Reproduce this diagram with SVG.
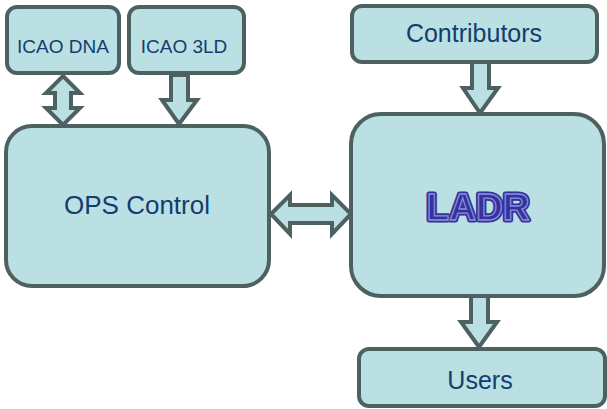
<svg xmlns="http://www.w3.org/2000/svg" width="607" height="409" viewBox="0 0 607 409">
<style>
.box{fill:#bae0e3;stroke:#4e6161;stroke-width:4}
.arr{fill:#bae0e3;stroke:#4e6161;stroke-width:4;stroke-linejoin:miter}
.lbl{font-family:"Liberation Sans",Arial,sans-serif;fill:#123d6e;text-anchor:middle}
</style>
<rect width="607" height="409" fill="#ffffff"/>
<g id="connectors">
<path class="arr" d="M63,76 L80,93 L71,93 L71,108 L80,108 L63,125 L46,108 L55,108 L55,93 L46,93 Z"/>
<path class="arr" d="M171,75 L188,75 L188,100 L197,100 L179,124 L162,100 L171,100 Z"/>
<path class="arr" d="M271,214 L290,195 L290,205 L332,205 L332,195 L351,214 L332,234 L332,223 L290,223 L290,234 Z"/>
<path class="arr" d="M472,62 L489,62 L489,88 L498,88 L480,113 L463,88 L472,88 Z"/>
<path class="arr" d="M471,296 L488,296 L488,322 L497,322 L479,347 L461,322 L471,322 Z"/>
</g>
<g id="icao-dna">
<rect class="box" x="7" y="7" width="112" height="66" rx="10"/>
<text class="lbl" x="63" y="53" font-size="19">ICAO DNA</text>
</g>
<g id="icao-3ld">
<rect class="box" x="129" y="7" width="115" height="66" rx="10"/>
<text class="lbl" x="184" y="53" font-size="19">ICAO 3LD</text>
</g>
<g id="ops-control">
<rect class="box" x="6" y="126" width="263" height="160" rx="26"/>
<text class="lbl" x="137" y="214" font-size="26">OPS Control</text>
</g>
<g id="contributors">
<rect class="box" x="352" y="6" width="245" height="56" rx="10"/>
<text class="lbl" x="474" y="42" font-size="25">Contributors</text>
</g>
<g id="ladr">
<rect class="box" x="351" y="114" width="253" height="182" rx="30"/>
<text x="478" y="220" font-family="'Liberation Sans',Arial,sans-serif" font-weight="bold" font-size="37" text-anchor="middle" fill="#33339a" stroke="#33339a" stroke-width="5" stroke-linejoin="round">LADR</text>
<text x="478" y="220" font-family="'Liberation Sans',Arial,sans-serif" font-weight="bold" font-size="37" text-anchor="middle" fill="#33339a" stroke="#8a8ae0" stroke-width="1.3">LADR</text>
</g>
<g id="users">
<rect class="box" x="359" y="349" width="246" height="57" rx="10"/>
<text class="lbl" x="480" y="389" font-size="25">Users</text>
</g>
</svg>
